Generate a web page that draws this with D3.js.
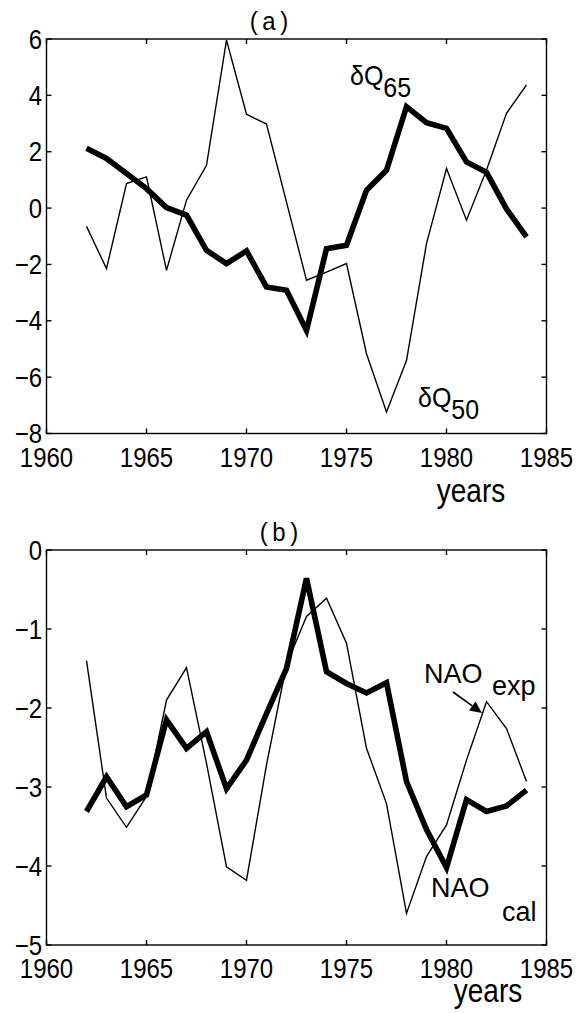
<!DOCTYPE html>
<html>
<head>
<meta charset="utf-8">
<script src="https://cdn.jsdelivr.net/npm/d3@7/dist/d3.min.js"></script>
<style>
  html, body { margin: 0; padding: 0; background: #fff; }
  svg { display: block; }
  text { font-family: "Liberation Sans", Arial, Helvetica, sans-serif; fill: #000; }
</style>
</head>
<body>
<svg id="chart" width="579" height="1013"></svg>
<script>
// ---- data ----
const years = [1962,1963,1964,1965,1966,1967,1968,1969,1970,1971,1972,1973,1974,1975,1976,1977,1978,1979,1980,1981,1982,1983,1984];
const dQ65 = [2.12,1.76,1.23,0.69,0.02,-0.25,-1.50,-1.97,-1.52,-2.80,-2.92,-4.34,-1.44,-1.32,0.63,1.34,3.60,3.03,2.83,1.64,1.27,-0.03,-1.02];
const dQ50 = [-0.65,-2.15,0.87,1.11,-2.21,0.28,1.52,5.96,3.33,2.98,0.21,-2.56,-2.27,-1.97,-5.17,-7.24,-5.41,-1.26,1.40,-0.43,1.35,3.36,4.37];
const naoCal = [-3.31,-2.87,-3.25,-3.10,-2.15,-2.51,-2.30,-3.02,-2.66,-2.07,-1.50,-0.36,-1.54,-1.69,-1.81,-1.68,-2.93,-3.54,-4.02,-3.16,-3.31,-3.24,-3.04];
const naoExp = [-1.40,-3.14,-3.51,-3.12,-1.90,-1.49,-2.70,-4.01,-4.18,-2.72,-1.45,-0.84,-0.61,-1.18,-2.51,-3.21,-4.60,-3.88,-3.48,-2.66,-1.92,-2.26,-2.93];
const xTicks = [1960,1965,1970,1975,1980,1985];
const yTicksA = [-8,-6,-4,-2,0,2,4,6];
const yTicksB = [-5,-4,-3,-2,-1,0];

const svg = d3.select("#chart");
svg.append("rect").attr("width",579).attr("height",1013).attr("fill","#fff");

const fmt = v => v < 0 ? "\u2212" + Math.abs(v) : String(v);

// text placed at baseline (x,y), vertically stretched by s
function txt(g, x, y, str, size, anchor, s) {
  return g.append("text")
    .attr("transform", `translate(${x},${y}) scale(1,${s || 1})`)
    .attr("text-anchor", anchor || "start")
    .attr("font-size", size).text(str);
}

function panel(cfg) {
  const x = d3.scaleLinear().domain([1960,1985]).range([46.5,546.5]);
  const y = d3.scaleLinear().domain(cfg.yDomain).range([cfg.bottom, cfg.top]);
  const g = svg.append("g");
  const line = d3.line().x((d,i)=>x(years[i])).y(d=>y(d));

  // series
  g.append("path").datum(cfg.thin).attr("d", line)
    .attr("fill","none").attr("stroke","#000").attr("stroke-width",1.4).attr("stroke-linejoin","miter");
  g.append("path").datum(cfg.thick).attr("d", line)
    .attr("fill","none").attr("stroke","#000").attr("stroke-width",5.6).attr("stroke-linejoin","miter").attr("stroke-miterlimit",3);

  // box
  g.append("rect").attr("x",x(1960)).attr("y",y(cfg.yDomain[1]))
    .attr("width",x(1985)-x(1960)).attr("height",y(cfg.yDomain[0])-y(cfg.yDomain[1]))
    .attr("fill","none").attr("stroke","#000").attr("stroke-width",1.4);

  const tl = 5;
  xTicks.forEach(t => {
    g.append("line").attr("x1",x(t)).attr("x2",x(t)).attr("y1",y.range()[0]).attr("y2",y.range()[0]-tl)
      .attr("stroke","#000").attr("stroke-width",1.4);
    g.append("line").attr("x1",x(t)).attr("x2",x(t)).attr("y1",y.range()[1]).attr("y2",y.range()[1]+tl)
      .attr("stroke","#000").attr("stroke-width",1.4);
    txt(g, x(t), y.range()[0]+33, t, 24, "middle", 1.15);
  });
  cfg.yTicks.forEach(t => {
    g.append("line").attr("x1",x(1960)).attr("x2",x(1960)+tl).attr("y1",y(t)).attr("y2",y(t))
      .attr("stroke","#000").attr("stroke-width",1.4);
    g.append("line").attr("x1",x(1985)).attr("x2",x(1985)-tl).attr("y1",y(t)).attr("y2",y(t))
      .attr("stroke","#000").attr("stroke-width",1.4);
    txt(g, 42, y(t)+9.5, fmt(t), 24, "end", 1.15);
  });
  // title
  txt(g, cfg.titleX, cfg.top-9, cfg.title, 24, "middle", 1.1).attr("word-spacing", -2);
  // xlabel
  txt(g, cfg.yearsX, y.range()[0]+cfg.yearsDy, "years", 28, "middle", 1.2);
  return {x, y, g};
}

// Panel (a)
const A = panel({yDomain:[-8,6], top:39, bottom:433.5, yTicks:yTicksA, thin:dQ50, thick:dQ65,
                 title:"( a )", titleX:269, yearsX:471, yearsDy:68});
{
  const t1 = A.g.append("text").attr("transform","translate(350,85) scale(1,1.1)").attr("font-size",25);
  t1.append("tspan").text("\u03B4Q");
  t1.append("tspan").attr("dy",11).attr("font-size",25).text("65");
  const t2 = A.g.append("text").attr("transform","translate(418,407) scale(1,1.1)").attr("font-size",25);
  t2.append("tspan").text("\u03B4Q");
  t2.append("tspan").attr("dy",11).attr("font-size",25).text("50");
}

// Panel (b)
const B = panel({yDomain:[-5,0], top:550, bottom:945, yTicks:yTicksB, thin:naoExp, thick:naoCal,
                 title:"( b )", titleX:279, yearsX:488, yearsDy:57});
{
  txt(B.g, 424, 683, "NAO", 27, "start", 1.05);
  txt(B.g, 492, 695, "exp", 27, "start", 1.05);
  txt(B.g, 431, 897, "NAO", 27, "start", 1.05);
  txt(B.g, 502, 921, "cal", 27, "start", 1.05);
  // arrow
  const x0 = 453, y0 = 692, x1 = 482, y1 = 713;
  const ang = Math.atan2(y1-y0, x1-x0);
  const hl = 12, hw = 5.5;
  const bx = x1 - hl*Math.cos(ang), by = y1 - hl*Math.sin(ang);
  B.g.append("line").attr("x1",x0).attr("y1",y0).attr("x2",bx).attr("y2",by)
    .attr("stroke","#000").attr("stroke-width",1.6);
  B.g.append("path").attr("d",
    `M${x1},${y1} L${bx - hw*Math.sin(ang)},${by + hw*Math.cos(ang)} L${bx + hw*Math.sin(ang)},${by - hw*Math.cos(ang)} Z`)
    .attr("fill","#000");
}
</script>
</body>
</html>
